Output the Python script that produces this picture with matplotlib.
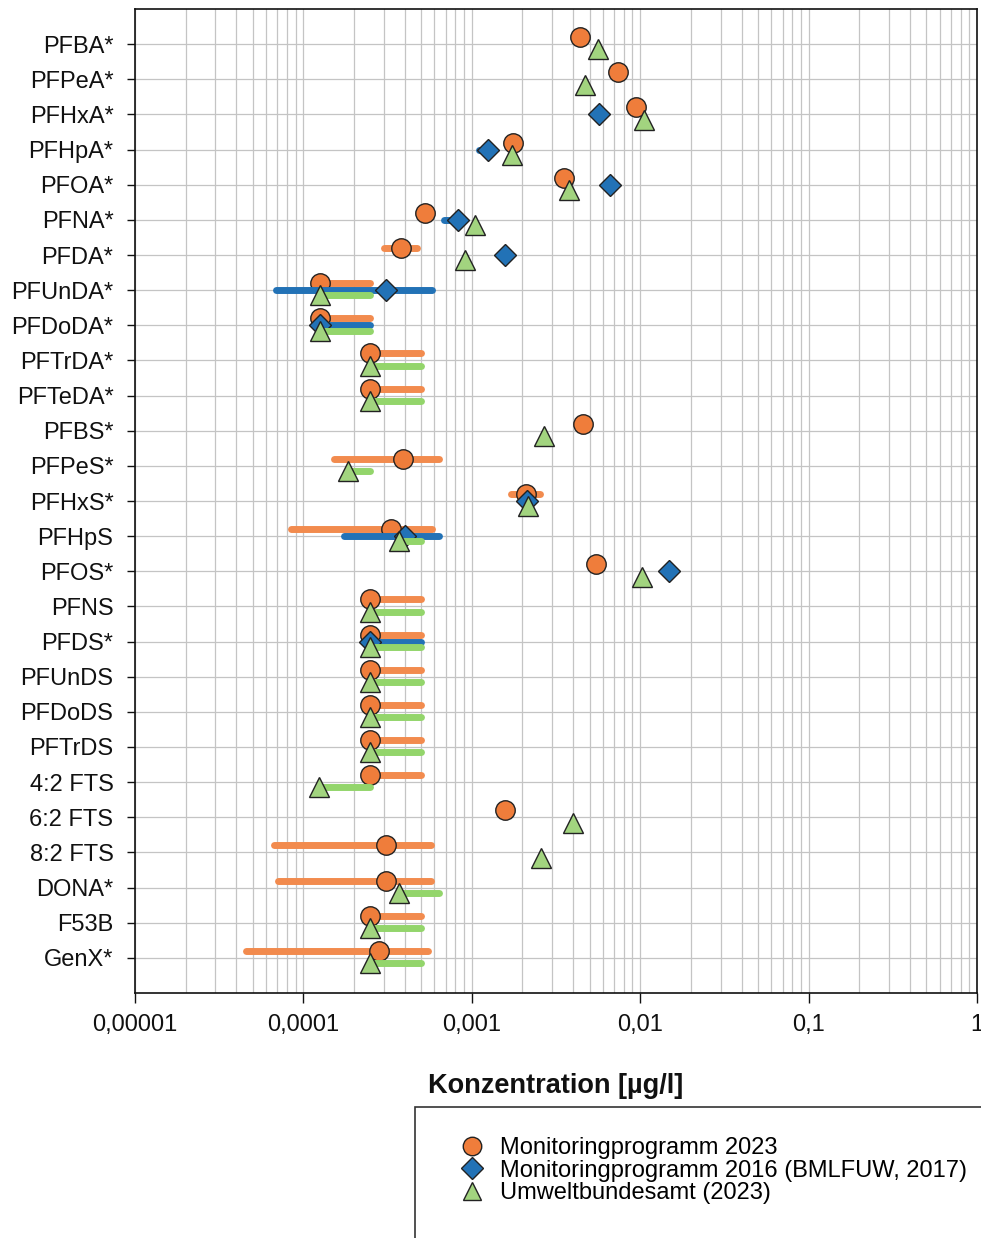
import numpy as np
import matplotlib
matplotlib.use("Agg")
import matplotlib.pyplot as plt
import matplotlib.patches as mpatches
from matplotlib.lines import Line2D
from matplotlib.ticker import FixedLocator, FixedFormatter, LogLocator, NullFormatter

plt.rcParams["font.family"] = ["Liberation Sans", "DejaVu Sans"]

nan = np.nan

categories = ["PFBA*", "PFPeA*", "PFHxA*", "PFHpA*", "PFOA*", "PFNA*", "PFDA*",
              "PFUnDA*", "PFDoDA*", "PFTrDA*", "PFTeDA*", "PFBS*", "PFPeS*",
              "PFHxS*", "PFHpS", "PFOS*", "PFNS", "PFDS*", "PFUnDS", "PFDoDS",
              "PFTrDS", "4:2 FTS", "6:2 FTS", "8:2 FTS", "DONA*", "F53B", "GenX*"]

# Monitoringprogramm 2023: value, min, max
mp23_val = [0.0044, 0.0074, 0.0095, 0.00175, 0.00355, 0.00053, 0.00038,
            0.000125, 0.000125, 0.00025, 0.00025, 0.0046, 0.00039,
            0.0021, 0.00033, 0.0055, 0.00025, 0.00025, 0.00025, 0.00025,
            0.00025, 0.00025, 0.00157, 0.00031, 0.00031, 0.00025, 0.00028]
mp23_min = [nan, nan, nan, nan, nan, nan, 0.0003,
            0.000125, 0.000125, 0.00025, 0.00025, nan, 0.000152,
            0.0017, 0.000084, nan, 0.00025, 0.00025, 0.00025, 0.00025,
            0.00025, 0.00025, nan, 0.000067, 0.000071, 0.00025, 0.0000455]
mp23_max = [nan, nan, nan, nan, nan, nan, 0.00047,
            0.00025, 0.00025, 0.0005, 0.0005, nan, 0.00064,
            0.00253, 0.00058, nan, 0.0005, 0.0005, 0.0005, 0.0005,
            0.0005, 0.0005, nan, 0.00057, 0.00057, 0.0005, 0.00055]

# Monitoringprogramm 2016 (BMLFUW, 2017)
mp16_val = [nan, nan, 0.0057, 0.00124, 0.0066, 0.00083, 0.00157,
            0.00031, 0.000125, nan, nan, nan, nan,
            0.00213, 0.0004, 0.0148, nan, 0.00025, nan, nan,
            nan, nan, nan, nan, nan, nan, nan]
mp16_min = [nan, nan, nan, 0.0011, nan, 0.00068, nan,
            0.000069, 0.000125, nan, nan, nan, nan,
            nan, 0.000175, nan, nan, 0.00025, nan, nan,
            nan, nan, nan, nan, nan, nan, nan]
mp16_max = [nan, nan, nan, 0.00124, nan, 0.00083, nan,
            0.00058, 0.00025, nan, nan, nan, nan,
            nan, 0.00064, nan, nan, 0.0005, nan, nan,
            nan, nan, nan, nan, nan, nan, nan]

# Umweltbundesamt (2023)
uba_val = [0.0056, 0.0047, 0.0105, 0.00173, 0.0038, 0.00104, 0.00091,
           0.000125, 0.000125, 0.00025, 0.00025, 0.0027, 0.000185,
           0.00216, 0.00037, 0.0102, 0.00025, 0.00025, 0.00025, 0.00025,
           0.00025, 0.000123, 0.0040, 0.00256, 0.00037, 0.00025, 0.00025]
uba_min = [nan, nan, nan, nan, nan, nan, nan,
           0.000125, 0.000125, 0.00025, 0.00025, nan, 0.000185,
           nan, 0.00037, nan, 0.00025, 0.00025, 0.00025, 0.00025,
           0.00025, 0.000123, nan, nan, 0.00037, 0.00025, 0.00025]
uba_max = [nan, nan, nan, nan, nan, nan, nan,
           0.00025, 0.00025, 0.0005, 0.0005, nan, 0.00025,
           nan, 0.0005, nan, 0.0005, 0.0005, 0.0005, 0.0005,
           0.0005, 0.00025, nan, nan, 0.00064, 0.0005, 0.0005]

xtick_values = [1e-5, 1e-4, 1e-3, 1e-2, 1e-1, 1]
xtick_labels = ["0,00001", "0,0001", "0,001", "0,01", "0,1", "1"]

series = [
    ("Monitoringprogramm 2023", mp23_val, mp23_min, mp23_max, "o", 14, "#EF7D3B", "#F28B4E", -0.2),
    ("Monitoringprogramm 2016 (BMLFUW, 2017)", mp16_val, mp16_min, mp16_max, "D", 11.5, "#2272B6", "#2272B6", 0.0),
    ("Umweltbundesamt (2023)", uba_val, uba_min, uba_max, "^", 14, "#A2D47F", "#93D56B", 0.15),
]

fig = plt.figure(figsize=(9.81, 12.38), dpi=100)
ax = fig.add_axes([135 / 981, 1 - 993 / 1238, (977 - 135) / 981, (993 - 9) / 1238])

ypos = np.arange(1, len(categories) + 1)
handles = []
for k, (label, val, lo, hi, mk, ms, fc, bc, off) in enumerate(series):
    val = np.array(val)
    lo = np.array(lo)
    hi = np.array(hi)
    y = ypos + off
    has = ~np.isnan(lo)
    if has.any():
        lc = ax.hlines(y[has], lo[has], hi[has], colors=bc, linewidth=5, zorder=3 + 2 * k)
        lc.set_capstyle("round")
    ax.plot(val, y, linestyle="none", marker=mk, markersize=ms, markerfacecolor=fc,
            markeredgecolor="#222222", markeredgewidth=1.0, zorder=4 + 2 * k)
    handles.append(Line2D([], [], linestyle="none", marker=mk, markersize=ms * 0.95,
                          markerfacecolor=fc, markeredgecolor="#222222",
                          markeredgewidth=1.0, label=label))

ax.set_xscale("log")
ax.set_xlim(1e-5, 1)
ax.set_ylim(len(categories) + 1, 0)
ax.set_yticks(ypos)
ax.set_yticklabels(categories)
ax.xaxis.set_major_locator(FixedLocator(xtick_values))
ax.xaxis.set_major_formatter(FixedFormatter(xtick_labels))
ax.xaxis.set_minor_locator(LogLocator(base=10, subs=np.arange(2, 10)))
ax.xaxis.set_minor_formatter(NullFormatter())

ax.grid(which="both", axis="x", color="#c4c4c4", linewidth=0.9, zorder=0)
ax.grid(which="major", axis="y", color="#c4c4c4", linewidth=0.9, zorder=0)
ax.set_axisbelow(True)

ax.tick_params(axis="y", which="major", length=5.5, width=1, pad=10, labelsize=17, colors="#111111")
ax.tick_params(axis="x", which="major", length=7, width=1, pad=8, labelsize=17, colors="#111111")
ax.tick_params(axis="x", which="minor", length=0)
for s in ax.spines.values():
    s.set_color("#111111")
    s.set_linewidth(1.2)

ax.set_xlabel("Konzentration [µg/l]", fontsize=19.5, fontweight="bold", labelpad=27, color="#111111")

# legend box (runs off the page edge like the original)
box = mpatches.Rectangle((415 / 981, -0.05), 0.6, 0.05 + 1 - 1107 / 1238,
                         transform=fig.transFigure, facecolor="white",
                         edgecolor="#333333", linewidth=1.2, clip_on=False)
fig.patches.append(box)
fig.legend(handles=handles, loc="upper left", bbox_to_anchor=(460 / 981, 1 - 1137 / 1238),
           frameon=False, fontsize=17, handlelength=1.0, handletextpad=0.7,
           labelspacing=0.03, borderpad=0, borderaxespad=0)

fig.savefig("out.png", dpi=100)
